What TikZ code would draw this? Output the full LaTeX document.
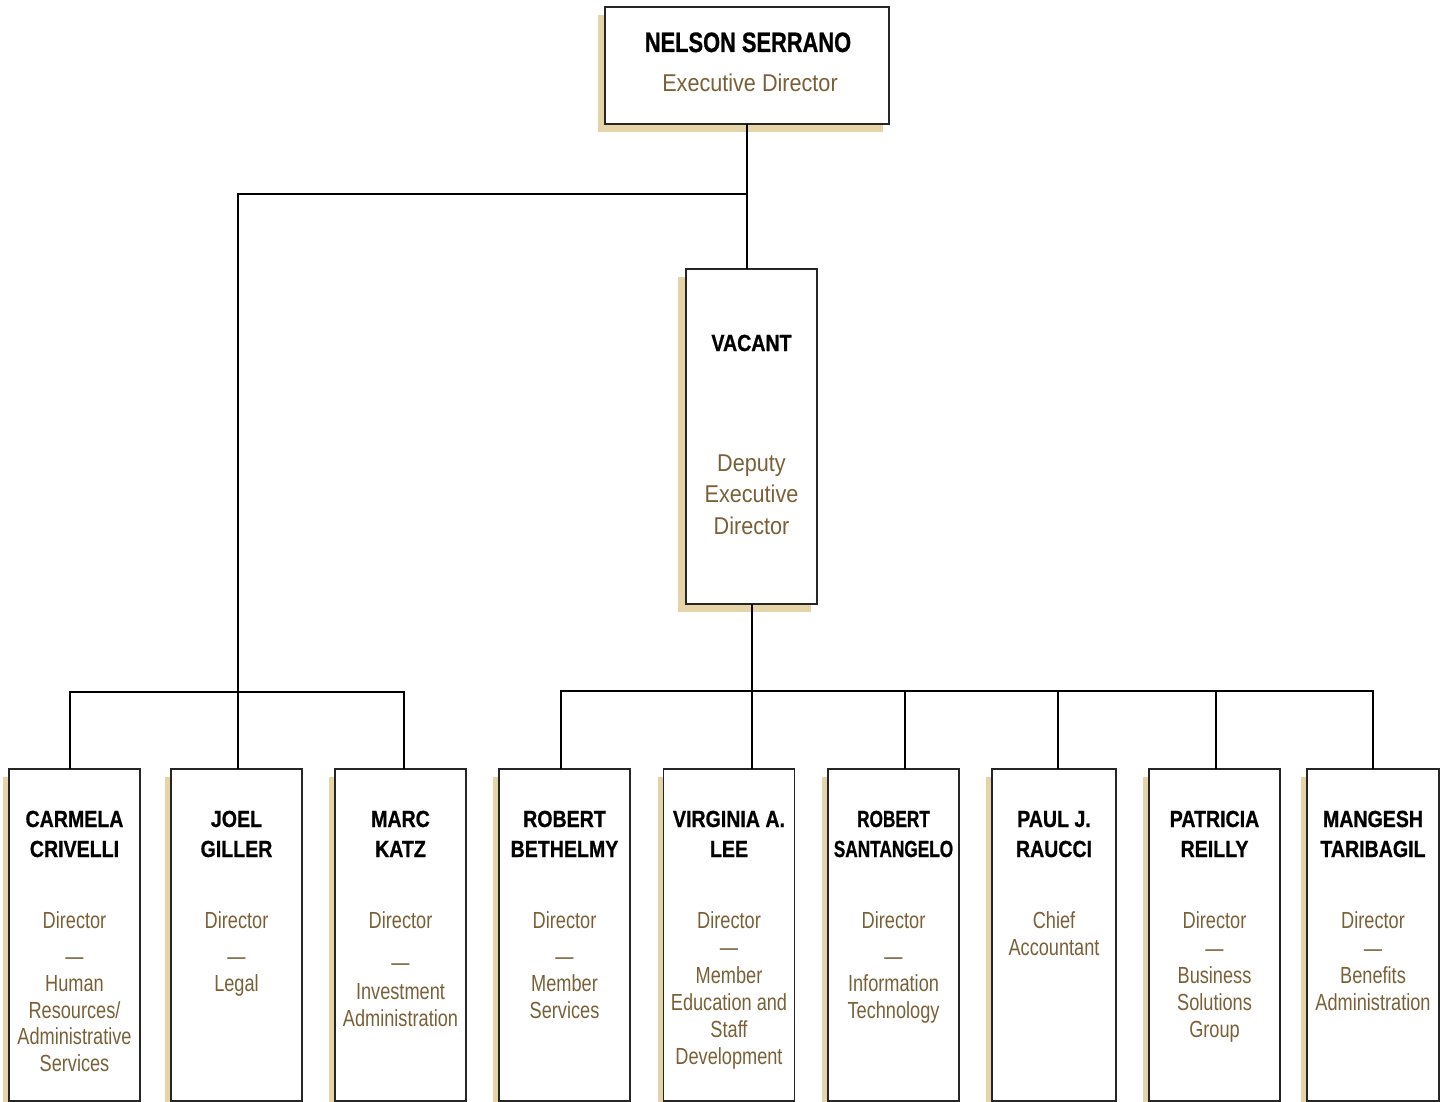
\documentclass[tikz,border=0pt]{standalone}
\usepackage{fontspec}
\setmainfont{Liberation Sans}
\newfontfamily\bcondA[FakeStretch=0.84,BoldFeatures={FakeBold=0.8}]{Liberation Sans}
\newfontfamily\bcondT[FakeStretch=0.78,BoldFeatures={FakeBold=0.8}]{Liberation Sans}
\newfontfamily\bcondS[FakeStretch=0.74,BoldFeatures={FakeBold=0.8}]{Liberation Sans}
\newfontfamily\rcondA[FakeStretch=0.78]{Liberation Sans}
\newfontfamily\rcondT[FakeStretch=0.89]{Liberation Sans}
\usetikzlibrary{shadows}
\definecolor{shadowtan}{RGB}{228,212,168}
\definecolor{rolebrown}{RGB}{122,96,56}
\newcommand\nmfont{\bcondA\bfseries\fontsize{23.3pt}{28pt}\selectfont}
\newcommand\nmtopfont{\bcondT\bfseries\fontsize{28pt}{32pt}\selectfont}
\newcommand\nmsanfont{\bcondS\bfseries\fontsize{23.3pt}{28pt}\selectfont}
\newcommand\rlfont{\rcondA\fontsize{23.3pt}{27pt}\selectfont}
\newcommand\rltopfont{\rcondT\fontsize{24.3pt}{30pt}\selectfont}
\begin{document}
\begin{tikzpicture}[x=1pt,y=-1pt,
  box/.style={draw=black!85, line width=1.5pt, fill=white, inner sep=0pt,
    minimum height=332pt, minimum width=131pt,
    general shadow={fill=shadowtan, shadow xshift=-6pt, shadow yshift=-8pt}},
  topbox/.style={box, minimum width=284pt, minimum height=117pt,
    general shadow={fill=shadowtan, shadow xshift=-7pt, shadow yshift=-8pt}},
  vacbox/.style={box, minimum width=131pt, minimum height=335pt,
    general shadow={fill=shadowtan, shadow xshift=-8pt, shadow yshift=-8pt}},
  nm/.style={anchor=base, inner sep=0pt, font=\nmfont, text=black},
  nmtop/.style={nm, font=\nmtopfont},
  nmsan/.style={nm, font=\nmsanfont},
  rl/.style={anchor=base, inner sep=0pt, font=\rlfont, text=rolebrown},
  rltop/.style={rl, font=\rltopfont},
  conn/.style={draw=black, line width=2pt, line cap=rect}
]
\useasboundingbox (0,0) rectangle (1445,1102);
\fill[white] (0,0) rectangle (1445,1102);

% boxes
\node[topbox] (top) at (747,65.5) {};
\node[vacbox] (vac) at (751.5,436.5) {};
\node[box] (b1) at (74.5,935) {};
\node[box] (b2) at (236.5,935) {};
\node[box] (b3) at (400.5,935) {};
\node[box] (b4) at (564.5,935) {};
\node[box] (b5) at (729,935) {};
\node[box] (b6) at (893.5,935) {};
\node[box, minimum width=124pt] (b7) at (1054,935) {};
\node[box] (b8) at (1214.5,935) {};
\node[box, minimum width=132pt] (b9) at (1373,935) {};

% top texts
\node[nmtop] (t1) at (748,52) {NELSON SERRANO};
\node[rltop] (t2) at (750,92) {Executive Director};
\node[nm] (v1) at (751.5,351) {VACANT};
\node[rltop] (v2) at (751.5,471) {Deputy};
\node[rltop] (v3) at (751.5,502.5) {Executive};
\node[rltop] (v4) at (751.5,534) {Director};

% names
\node[nm] (n1a) at (74.5,827) {CARMELA};
\node[nm] (n1b) at (74.5,857) {CRIVELLI};
\node[nm] (n2a) at (236.5,827) {JOEL};
\node[nm] (n2b) at (236.5,857) {GILLER};
\node[nm] (n3a) at (400.5,827) {MARC};
\node[nm] (n3b) at (400.5,857) {KATZ};
\node[nm] (n4a) at (564.5,827) {ROBERT};
\node[nm] (n4b) at (564.5,857) {BETHELMY};
\node[nm] (n5a) at (729,827) {VIRGINIA A.};
\node[nm] (n5b) at (729,857) {LEE};
\node[nmsan] (n6a) at (893.5,827) {ROBERT};
\node[nmsan] (n6b) at (893.5,857) {SANTANGELO};
\node[nm] (n7a) at (1054,827) {PAUL J.};
\node[nm] (n7b) at (1054,857) {RAUCCI};
\node[nm] (n8a) at (1214.5,827) {PATRICIA};
\node[nm] (n8b) at (1214.5,857) {REILLY};
\node[nm] (n9a) at (1373,827) {MANGESH};
\node[nm] (n9b) at (1373,857) {TARIBAGIL};

% roles
\foreach \t/\yy [count=\i] in {Director/928, —/964, Human/991, Resources\slash/1018, Administrative/1044, Services/1071}
  \node[rl] (r1\i) at (74.5,\yy) {\t};
\foreach \t/\yy [count=\i] in {Director/928, —/964, Legal/991}
  \node[rl] (r2\i) at (236.5,\yy) {\t};
\foreach \t/\yy [count=\i] in {Director/928, —/970, Investment/999, Administration/1026}
  \node[rl] (r3\i) at (400.5,\yy) {\t};
\foreach \t/\yy [count=\i] in {Director/928, —/964, Member/991, Services/1018}
  \node[rl] (r4\i) at (564.5,\yy) {\t};
\foreach \t/\yy [count=\i] in {Director/928, —/955, Member/983, Education and/1010, Staff/1037, Development/1064}
  \node[rl] (r5\i) at (729,\yy) {\t};
\foreach \t/\yy [count=\i] in {Director/928, —/964, Information/991, Technology/1018}
  \node[rl] (r6\i) at (893.5,\yy) {\t};
\foreach \t/\yy [count=\i] in {Chief/928, Accountant/955}
  \node[rl] (r7\i) at (1054,\yy) {\t};
\foreach \t/\yy [count=\i] in {Director/928, —/956, Business/983, Solutions/1010, Group/1037}
  \node[rl] (r8\i) at (1214.5,\yy) {\t};
\foreach \t/\yy [count=\i] in {Director/928, —/956, Benefits/983, Administration/1010}
  \node[rl] (r9\i) at (1373,\yy) {\t};

% junction coordinates
\coordinate (jt) at (747,194);
\coordinate (jl) at (238,194);
\coordinate (hl) at (238,692);
\coordinate (hlL) at (70,692);
\coordinate (hlR) at (404,692);
\coordinate (hr) at (751.5,691);
\coordinate (hrL) at (561,691);
\coordinate (hrR) at (1373,691);
\coordinate (h4) at (905,691);
\coordinate (h5) at (1058,691);
\coordinate (h6) at (1216,691);

% connectors
\draw[conn] (top.south) -- (top.south |- vac.north);
\draw[conn] (jt) -- (jl) -- (hl);
\draw[conn] (hlL) -- (hlR);
\draw[conn] (hlL) -- (hlL |- b1.north);
\draw[conn] (hl) -- (hl |- b2.north);
\draw[conn] (hlR) -- (hlR |- b3.north);
\draw[conn] (vac.south) -- (hr);
\draw[conn] (hrL) -- (hrR);
\draw[conn] (hrL) -- (hrL |- b4.north);
\draw[conn] (hr) -- (hr |- b5.north);
\draw[conn] (h4) -- (h4 |- b6.north);
\draw[conn] (h5) -- (h5 |- b7.north);
\draw[conn] (h6) -- (h6 |- b8.north);
\draw[conn] (hrR) -- (hrR |- b9.north);
\end{tikzpicture}
\end{document}
